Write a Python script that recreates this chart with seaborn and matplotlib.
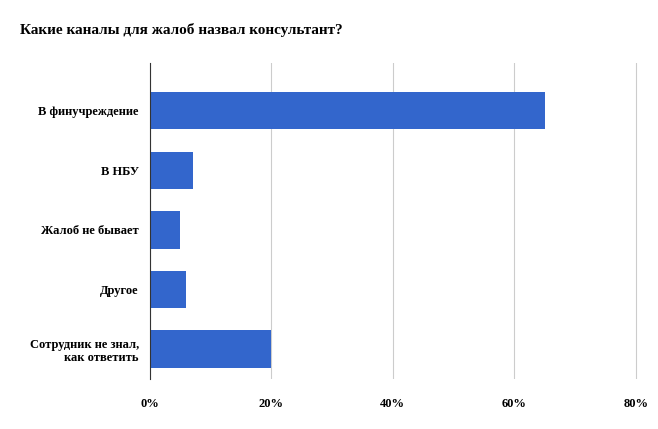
import matplotlib
matplotlib.use("Agg")
import matplotlib.pyplot as plt
import seaborn as sns
import pandas as pd
from matplotlib.ticker import PercentFormatter

categories = ["В финучреждение", "В НБУ", "Жалоб не бывает", "Другое", "Сотрудник не знал,\nкак ответить"]
values = [65, 7, 5, 6, 20]

df = pd.DataFrame({"cat": categories, "val": values})

plt.rcParams["font.family"] = "Liberation Serif"
fig = plt.figure(figsize=(6.58, 4.29), dpi=100)
ax = fig.add_axes([150 / 658, 1 - 379 / 429, 490 / 658, 316 / 429])

sns.barplot(data=df, x="val", y="cat", color="#3366cc", saturation=1, width=0.63, ax=ax)

ax.set_xlim(0, 80.7)
ax.set_ylim(4.5, -0.8)
ax.set_xticks([0, 20, 40, 60, 80])
ax.xaxis.set_major_formatter(PercentFormatter(decimals=0))
ax.grid(axis="x", color="#cccccc", linewidth=0.8)
ax.set_axisbelow(True)
for s in ["top", "right", "bottom"]:
    ax.spines[s].set_visible(False)
ax.spines["left"].set_color("#333333")
ax.tick_params(length=0, labelsize=9)
for t in ax.get_xticklabels() + ax.get_yticklabels():
    t.set_fontweight("bold")
ax.tick_params(axis="y", pad=8)
ax.tick_params(axis="x", pad=14)
ax.set_xlabel("")
ax.set_ylabel("")

fig.text(20 / 658, 1 - 30 / 429, "Какие каналы для жалоб назвал консультант?",
         fontsize=11, fontweight="bold", va="center")

fig.savefig("out.png", dpi=100)
